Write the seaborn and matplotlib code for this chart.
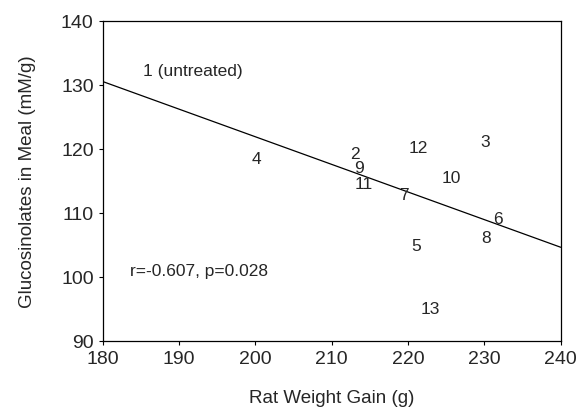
import numpy as np
import matplotlib
matplotlib.use("Agg")
import matplotlib.pyplot as plt
import seaborn as sns

# sample labels and their positions (weight gain, glucosinolates)
labels = ["1 (untreated)", "2", "3", "4", "5", "6", "7", "8", "9", "10", "11", "12", "13"]
weight_gain = [185.3, 213.1, 230.1, 200.2, 221.1, 231.8, 219.5, 230.2, 213.6, 225.7, 214.2, 221.4, 222.9]
glucosinolates = [132.2, 119.2, 121.2, 118.4, 104.8, 109.1, 112.9, 106.2, 117.1, 115.5, 114.5, 120.2, 95.0]

# regression line end points
fit_x = [180, 240]
fit_y = [130.5, 104.6]

stats_text = "r=-0.607, p=0.028"

sns.set_style("ticks")
plt.rcParams['font.family'] = ['Liberation Sans', 'DejaVu Sans']

fig = plt.figure(figsize=(5.79, 4.10), dpi=100)
ax = fig.add_axes([0.1774, 0.1666, 0.791, 0.7804])

sns.lineplot(x=fit_x, y=fit_y, color='black', linewidth=0.9, ax=ax)

for i, lab in enumerate(labels):
    ha = 'left' if i == 0 else 'center'
    ax.text(weight_gain[i], glucosinolates[i], lab, ha=ha, va='center', fontsize=12.5)

ax.text(183.6, 100.9, stats_text, ha='left', va='center', fontsize=12.5)

ax.set_xlim(180, 240)
ax.set_ylim(90, 140)
ax.set_xticks(np.arange(180, 241, 10))
ax.set_yticks(np.arange(90, 141, 10))
ax.tick_params(labelsize=14, length=3, width=0.8, color='black')
for s in ax.spines.values():
    s.set_visible(True)
    s.set_color('black')
    s.set_linewidth(0.9)

ax.set_xlabel("Rat Weight Gain (g)", fontsize=13.5, labelpad=16)
ax.set_ylabel("Glucosinolates in Meal (mM/g)", fontsize=13.5, labelpad=18)

fig.savefig("out.png", dpi=100)
